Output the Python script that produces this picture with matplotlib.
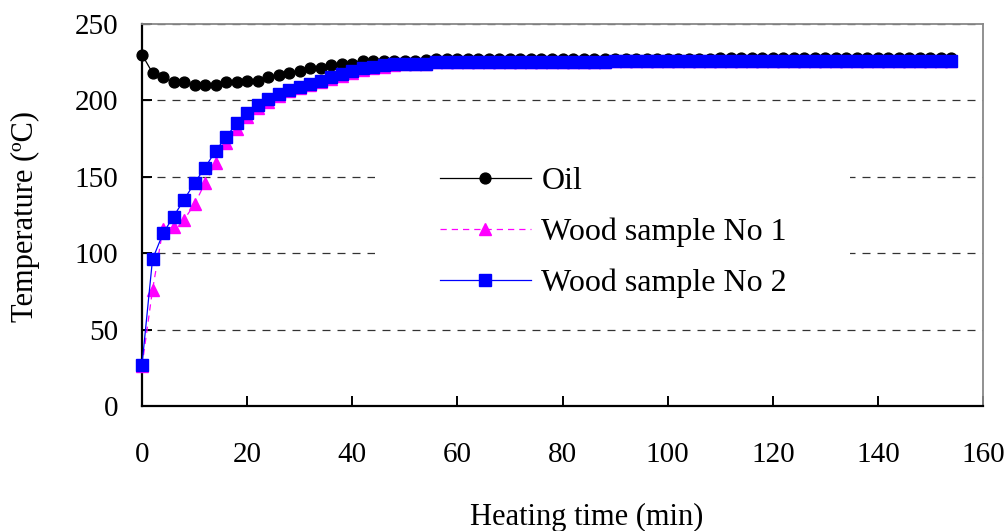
import matplotlib
matplotlib.use("Agg")
import matplotlib.pyplot as plt
from matplotlib.patches import Rectangle

# Heating time (min), one reading every 2 min
time_min = [
    0, 2, 4, 6, 8, 10, 12, 14, 16, 18, 20, 22, 24, 26, 28, 30, 32, 34, 36, 38,
    40, 42, 44, 46, 48, 50, 52, 54, 56, 58, 60, 62, 64, 66, 68, 70, 72, 74, 76, 78,
    80, 82, 84, 86, 88, 90, 92, 94, 96, 98, 100, 102, 104, 106, 108, 110, 112, 114, 116, 118,
    120, 122, 124, 126, 128, 130, 132, 134, 136, 138, 140, 142, 144, 146, 148, 150, 152, 154,
]

oil = [
    230, 218, 215, 212, 212, 210, 210, 210, 212, 212, 213, 213, 215, 216.5, 218, 219.5, 221, 221, 223, 224,
    224, 226, 226, 226, 226, 226, 226, 226.5, 227, 227, 227, 227, 227, 227, 227, 227, 227, 227, 227, 227,
    227, 227, 227, 227, 227, 227, 227, 227, 227, 227, 227, 227, 227, 227, 227, 228, 228, 228, 228, 228,
    228, 228, 228, 228, 228, 228, 228, 228, 228, 228, 228, 228, 228, 228, 228, 228, 228, 228,
]

wood1 = [
    26, 76, 116, 117, 122, 132, 146, 159, 172, 181, 189, 195, 199, 203, 206, 208, 210, 212, 214, 216,
    218, 220, 221, 222, 223, 223.5, 224, 224, 225, 225, 225, 225, 225, 225, 225, 225, 225, 225, 225, 225,
    225, 225, 225, 225, 225, 226, 226, 226, 226, 226, 226, 226, 226, 226, 226, 226, 226, 226, 226, 226,
    226, 226, 226, 226, 226, 226, 226, 226, 226, 226, 226, 226, 226, 226, 226, 226, 226, 226,
]

wood2 = [
    27, 96, 113, 124, 135, 146, 156, 167, 176, 185, 192, 197, 201, 204, 207, 209, 211, 213, 215.5, 217.5,
    219, 221, 222, 223, 223.5, 224, 224, 224, 225, 225, 225, 225, 225, 225, 225, 225, 225, 225, 225, 225,
    225, 225, 225, 225, 225, 226, 226, 226, 226, 226, 226, 226, 226, 226, 226, 226, 226, 226, 226, 226,
    226, 226, 226, 226, 226, 226, 226, 226, 226, 226, 226, 226, 226, 226, 226, 226, 226, 226,
]

x_ticks = [0, 20, 40, 60, 80, 100, 120, 140, 160]
y_ticks = [0, 50, 100, 150, 200, 250]

plt.rcParams['font.family'] = ['Liberation Serif', 'DejaVu Serif']

fig = plt.figure(figsize=(10.08, 5.31), dpi=100)
ax = fig.add_axes([142 / 1008, 1 - 406 / 531, 841 / 1008, 382 / 531])

ax.plot(time_min, oil, color='black', lw=0.9, marker='o', ms=7.8,
        mfc='black', mec='black', label='Oil', clip_on=False, zorder=3)
ax.plot(time_min, wood1, color='#ff00ff', lw=0.9, ls=(0, (5, 4)), marker='^', ms=9,
        mfc='#ff00ff', mec='#ff00ff', label='Wood sample No 1', clip_on=False, zorder=4)
ax.plot(time_min, wood2, color='#0000ff', lw=0.9, marker='s', ms=8.2,
        mfc='#0000ff', mec='#0000ff', label='Wood sample No 2', clip_on=False, zorder=5)

ax.set_xlim(0, 160)
ax.set_ylim(0, 250)
ax.set_xticks(x_ticks)
ax.set_yticks(y_ticks)

ax.yaxis.grid(True, color='#333333', lw=0.9, dashes=(6.4, 5.6))
ax.set_axisbelow(True)

for side in ['left', 'bottom']:
    ax.spines[side].set_linewidth(1.6)
    ax.spines[side].set_color('black')
for side in ['top', 'right']:
    ax.spines[side].set_linewidth(1.3)
    ax.spines[side].set_color('#888888')

ax.tick_params(axis='both', direction='in', length=7, width=1.4, labelsize=21)
ax.tick_params(axis='x', pad=26)
ax.tick_params(axis='y', pad=17)

# white box behind the legend hides the gridlines there
ax.add_patch(Rectangle((0.277, 0.277), 0.565, 0.39, transform=ax.transAxes,
                       facecolor='white', edgecolor='none', zorder=2))

leg = ax.legend(loc='upper left', bbox_to_anchor=(0.354, 0.627), frameon=False,
                fontsize=23, handlelength=2.85, handletextpad=0.33, labelspacing=0.68,
                borderpad=0, borderaxespad=0)

fig.text(587 / 1008, 1 - 517 / 531, 'Heating time (min)', ha='center', va='center', fontsize=22)
fig.text(25 / 1008, 1 - 216 / 531, 'Temperature (ºC)', ha='center', va='center',
         rotation=90, fontsize=22)

fig.savefig('out.png', dpi=100)
